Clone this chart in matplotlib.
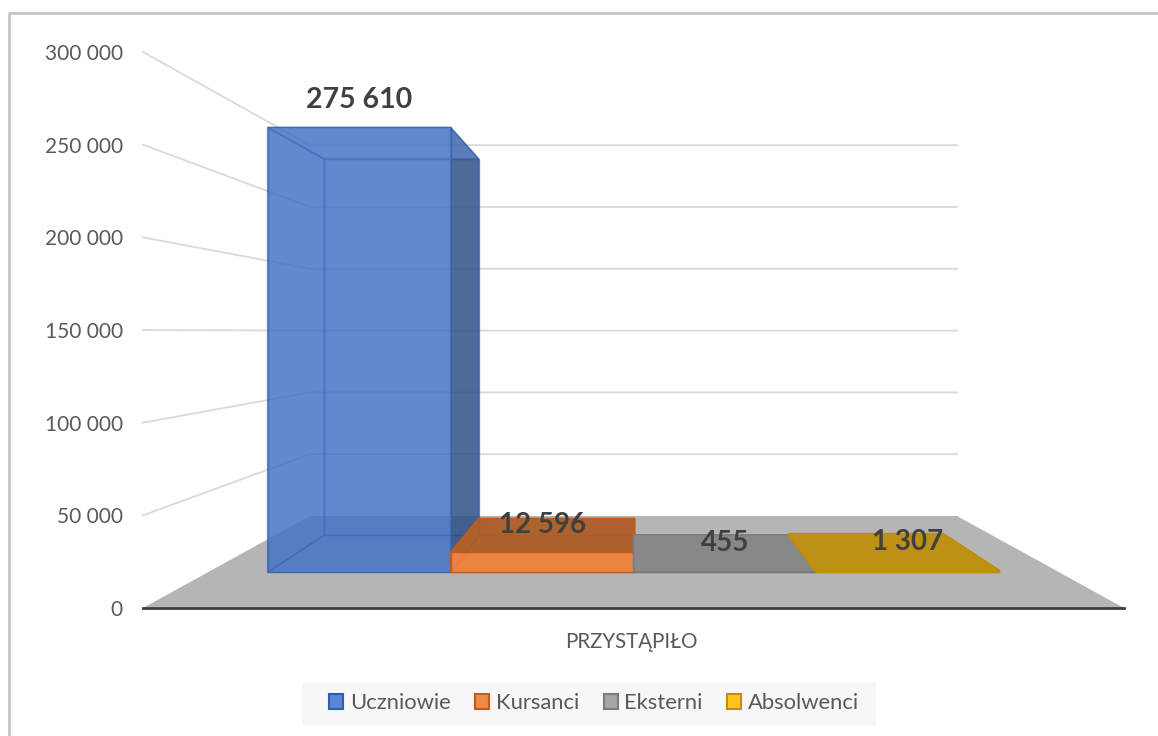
#!/usr/bin/env python3
import matplotlib
matplotlib.use('Agg')
import matplotlib.pyplot as plt
from matplotlib.lines import Line2D
from matplotlib.patches import Patch, Polygon, Rectangle
from matplotlib.ticker import FuncFormatter

plt.rcParams['font.family'] = ['Lato', 'DejaVu Sans']

# data
categories = ["PRZYSTĄPIŁO"]
series = ["Uczniowie", "Kursanci", "Eksterni", "Absolwenci"]
values = [275610, 12596, 455, 1307]
y_ticks = [0, 50000, 100000, 150000, 200000, 250000, 300000]

# colours per series
legend_fill = ["#5b87d0", "#ed8b4a", "#a5a5a5", "#ffc51f"]
edge_col = ["#2f5fae", "#c55a11", "#7c7c7c", "#bf9000"]
front_col = ["#4472c4", "#ec8340", "#888888", "#be9116"]
top_col = ["#4472c4", "#a85f2c", "#888888", "#be9116"]
side_col = ["#24406e", "#a85f2c", "#888888", "#be9116"]
face_alpha = [0.6, 0.9, 0.95, 0.95]
# label offset from the top centre of each bar, in pixels
label_dy = [59, -7, -8, -8]

# fake 3d geometry, depth 0 is the front of the floor, 1 the back wall
HALF_FLOOR = 2.336
HALF_BACK = 2.31
BACK_SCALE = 0.667
BACK_RISE = 49640
BAR_FRONT = 0.386
BAR_BACK = 0.79


def project(slot, value, depth):
    scale = 1 - (1 - BACK_SCALE) * depth
    return slot * scale, value * scale + BACK_RISE * depth


def draw_face(ax, pts, **kw):
    ax.add_patch(Polygon([project(*p) for p in pts], closed=True, **kw))


def draw_bar(ax, i, value):
    x0, x1 = i - 2, i - 1
    f, b = BAR_FRONT, BAR_BACK
    style = dict(alpha=face_alpha[i], edgecolor=edge_col[i], linewidth=1.0, zorder=3 + i)
    faces = [
        ([(x0, 0, b), (x1, 0, b), (x1, value, b), (x0, value, b)], front_col[i]),
        ([(x0, 0, f), (x0, 0, b), (x0, value, b), (x0, value, f)], front_col[i]),
        ([(x0, 0, f), (x1, 0, f), (x1, 0, b), (x0, 0, b)], front_col[i]),
        ([(x1, 0, f), (x1, 0, b), (x1, value, b), (x1, value, f)], side_col[i]),
        ([(x0, value, f), (x1, value, f), (x1, value, b), (x0, value, b)], top_col[i]),
        ([(x0, 0, f), (x1, 0, f), (x1, value, f), (x0, value, f)], front_col[i]),
    ]
    for pts, col in faces:
        draw_face(ax, pts, facecolor=col, **style)


def main():
    fig = plt.figure(figsize=(11.58, 7.36), dpi=100)
    ax = fig.add_axes([143 / 1158, 128 / 736, 981 / 1158, 556 / 736])
    ax.set_xlim(-HALF_FLOOR, HALF_FLOOR)
    ax.set_ylim(0, 300000)
    ax.patch.set_visible(False)

    for name in ['top', 'left', 'right']:
        ax.spines[name].set_visible(False)
    ax.spines['bottom'].set_color('#404040')
    ax.spines['bottom'].set_linewidth(2)
    ax.spines['bottom'].set_zorder(20)

    ax.set_yticks(y_ticks)
    ax.yaxis.set_major_formatter(FuncFormatter(lambda v, _: f"{int(v):,}".replace(",", " ")))
    ax.tick_params(axis='y', length=0, pad=14.5, labelsize=15, labelcolor='#595959')
    ax.set_xticks([-0.01])
    ax.set_xticklabels(categories)
    ax.tick_params(axis='x', length=0, pad=17.5, labelsize=14.8, labelcolor='#595959')

    # walls: grid runs along the left wall then across the back
    for v in y_ticks[1:]:
        pts = [project(-HALF_FLOOR, v, 0), project(-HALF_BACK, v, 1), project(HALF_BACK, v, 1)]
        ax.plot(*zip(*pts), color='#d9d9d9', lw=1.3, zorder=1, clip_on=False)

    draw_face(ax, [(-HALF_FLOOR, 0, 0), (HALF_FLOOR, 0, 0), (HALF_BACK, 0, 1), (-HALF_BACK, 0, 1)],
              facecolor='#b5b5b5', edgecolor='none', zorder=2)

    for i, v in enumerate(values):
        draw_bar(ax, i, v)

    for i, v in enumerate(values):
        x = project(i - 1.5, v, BAR_FRONT)[0]
        y = project(i - 1.5, v, BAR_BACK)[1]
        ax.annotate(f"{v:,}".replace(",", " "), (x, y), xytext=(0, label_dy[i] * 0.72),
                    textcoords='offset points', ha='center', va='center',
                    fontsize=20 if i else 20.5, fontweight='bold', color='#404040', zorder=15)

    # legend band
    fig.add_artist(Rectangle((302 / 1158, 1 - 726 / 736), 574 / 1158, 44 / 736,
                             facecolor='#f7f7f7', edgecolor='none', zorder=0))
    handles = [Patch(facecolor=legend_fill[i], edgecolor=edge_col[i], linewidth=1.5, label=s)
               for i, s in enumerate(series)]
    fig.legend(handles=handles, ncols=4, loc='center', bbox_to_anchor=(594 / 1158, 1 - 703 / 736),
               fontsize=15.8, labelcolor='#595959', frameon=False,
               handlelength=0.64, handleheight=0.64, handletextpad=0.3,
               columnspacing=1.12, borderpad=0.3)

    # chart frame, cut off on the right and bottom
    fig.add_artist(Line2D([9 / 1158, 9 / 1158, 1], [0, 1 - 13 / 736, 1 - 13 / 736],
                          color='#bfbfbf', lw=1.8))

    fig.savefig('out.png', dpi=100)
    plt.close(fig)


if __name__ == "__main__":
    main()
